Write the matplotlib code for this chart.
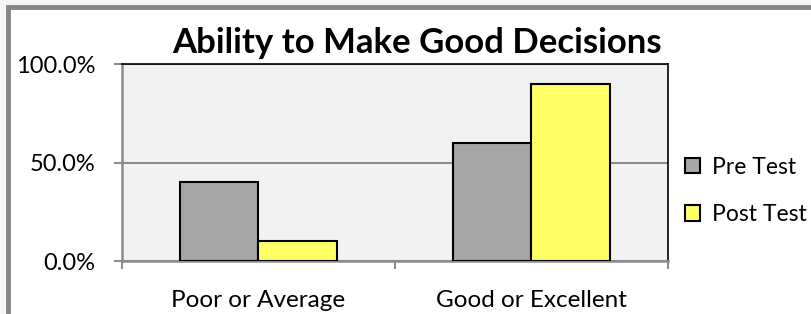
import matplotlib.pyplot as plt
from matplotlib.patches import Rectangle
import numpy as np

# data
categories = ["Poor or Average", "Good or Excellent"]
pre_test = [40.0, 60.0]
post_test = [10.0, 90.0]
series_names = ["Pre Test", "Post Test"]
yticks = [0, 50, 100]
ytick_labels = ["0.0%", "50.0%", "100.0%"]

plt.rcParams["font.family"] = ["Lato", "DejaVu Sans"]

W, H = 812, 314
fig = plt.figure(figsize=(W / 100, H / 100), dpi=100)
fig.patch.set_facecolor("#f4f4f4")

# chart area border (gray frame, clipped at right/bottom)
frame = Rectangle((8.5 / W, -0.05), 1.1, (H - 6.5) / H + 0.05,
                  transform=fig.transFigure, facecolor="white",
                  edgecolor="#858585", linewidth=3.5, zorder=-5)
fig.patches.append(frame)

ax = fig.add_axes([122 / W, (H - 261) / H, (668 - 122) / W, (261 - 64) / H])
ax.set_facecolor("#f2f2f2")

x = np.arange(len(categories))
w = 0.286
ax.bar(x - w / 2, pre_test, w, color="#a6a6a6", edgecolor="black",
       linewidth=1.5, label=series_names[0], zorder=3)
ax.bar(x + w / 2, post_test, w, color="#ffff66", edgecolor="black",
       linewidth=1.5, label=series_names[1], zorder=3)

ax.set_xlim(-0.5, 1.5)
ax.set_ylim(0, 100)
ax.set_yticks(yticks)
ax.set_yticklabels(ytick_labels, fontsize=17)
ax.yaxis.grid(True, color="#8c8c8c", linewidth=1.5, zorder=1)
ax.tick_params(axis="y", direction="out", length=6, width=1.5,
               color="#8c8c8c", pad=13)

ax.set_xticks(x)
ax.set_xticklabels(categories, fontsize=17.5)
ax.set_xticks([-0.5, 0.5, 1.5], minor=True)
ax.tick_params(axis="x", which="major", length=0, pad=21)
ax.tick_params(axis="x", which="minor", direction="out", length=6,
               width=1.5, color="#8c8c8c")

for s in ["left", "bottom"]:
    ax.spines[s].set_color("#8c8c8c")
    ax.spines[s].set_linewidth(1.8)
for s in ["top", "right"]:
    ax.spines[s].set_color("black")
    ax.spines[s].set_linewidth(1.2)

fig.text(417 / W, (H - 53) / H, "Ability to Make Good Decisions",
         fontsize=25, fontweight="bold", ha="center", va="baseline")

fig.legend(loc="center left", bbox_to_anchor=(664 / W, (H - 191) / H),
           frameon=False, fontsize=16.5, handlelength=0.65, handleheight=0.65,
           handletextpad=0.55, labelspacing=1.15)

fig.savefig("out.png", dpi=100)
